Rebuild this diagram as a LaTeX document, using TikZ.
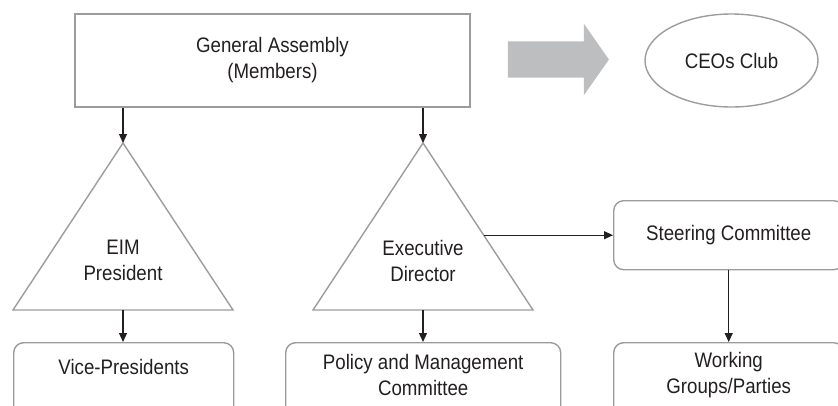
\documentclass[tikz,border=0pt]{standalone}
\usepackage{fontspec}
\setmainfont{Liberation Sans}[FakeStretch=0.89]
\usetikzlibrary{shapes.geometric, shapes.arrows, arrows.meta, calc}

\definecolor{edgegray}{HTML}{9B9C9E}
\definecolor{arrowgray}{HTML}{BDBEC0}
\definecolor{ink}{HTML}{231F20}

\begin{document}
\begin{tikzpicture}[x=1pt, y=-1pt,
    font=\fontsize{21}{26}\selectfont, text=ink,
    box/.style={draw=edgegray, line width=1.4pt, align=center},
    panel/.style={box, rounded corners=10pt, anchor=north west},
    inlabel/.style={anchor=center, align=center},
    conn/.style={draw=ink, line width=1.2pt, -{Triangle[length=9pt,width=8pt]}},
    tri/.style={draw=edgegray, line width=1.4pt}]
  \clip (0,0) rectangle (838,405);

  % top row
  \node[box, minimum width=395pt, minimum height=93pt] (ga) at (272.5,60.5) {General Assembly\\(Members)};
  \node[box, ellipse, minimum width=173pt, minimum height=93pt] (ceo) at (731.5,60.5) {CEOs Club};
  \node[single arrow, fill=arrowgray, minimum height=101pt, inner xsep=0pt, inner ysep=18pt,
        single arrow head extend=17.5pt, single arrow tip angle=110, single arrow head indent=0pt,
        anchor=tail] (link) at ($(ga.east)+(37,-1)$) {};

  % triangles
  \coordinate (p1) at (123,143);
  \coordinate (p1l) at (13,310);
  \coordinate (p1r) at (233,310);
  \coordinate (p2) at (423,143);
  \coordinate (p2l) at (313,310);
  \coordinate (p2r) at (533,310);
  \draw[tri] (p1) -- (p1l) -- (p1r) -- cycle;
  \draw[tri] (p2) -- (p2l) -- (p2r) -- cycle;
  \node[align=center] (pres) at (123,260.5) {EIM\\President};
  \node[align=center] (exec) at (423,260.5) {Executive\\Director};
  \coordinate (p2m) at ($(p2)!0.55!(p2r)$);

  % boxes
  \node[panel, minimum width=230pt, minimum height=69pt] (sc) at (613,200) {Steering Committee};
  \node[panel, minimum width=220pt, minimum height=100pt,
        label={[inlabel, yshift=-25pt]north:Vice-Presidents}] (vp) at (13,342) {};
  \node[panel, minimum width=275pt, minimum height=100pt,
        label={[inlabel, yshift=-33pt]north:{Policy and Management\\Committee}}] (pmc) at (285,342) {};
  \node[panel, minimum width=230pt, minimum height=100pt,
        label={[inlabel, yshift=-33pt]north:{Working\\Groups/Parties}}] (wg) at (613,342) {};

  % arrows
  \draw[conn] (ga.south -| p1) -- (p1);
  \draw[conn] (ga.south -| p2) -- (p2);
  \draw[conn] (p1 |- p1l) -- (vp.north -| p1);
  \draw[conn] (p2 |- p2l) -- (pmc.north -| p2);
  \draw[conn] (sc.west -| p2m) -- (sc.west);
  \draw[conn] (sc.south) -- (wg.north);
\end{tikzpicture}
\end{document}
